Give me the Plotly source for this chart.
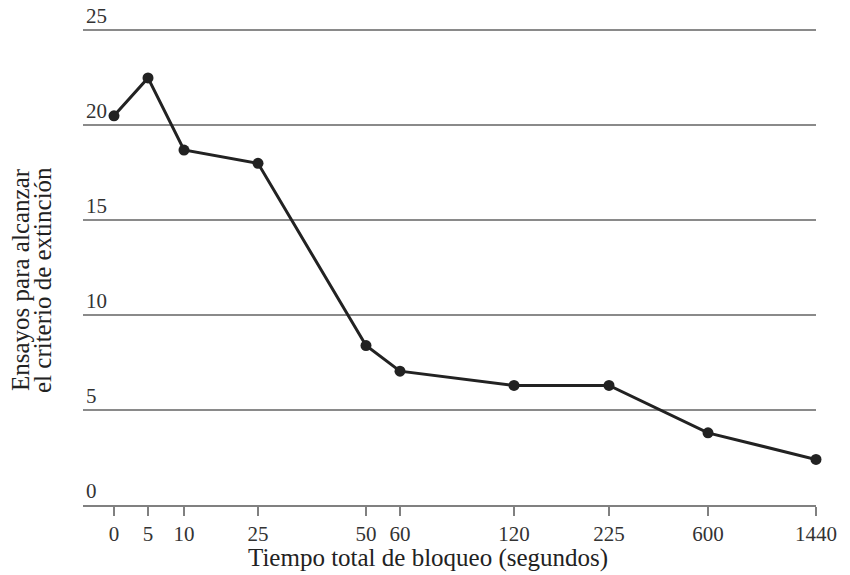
import plotly.graph_objects as go

# Data
block_time_labels = ["0", "5", "10", "25", "50", "60", "120", "225", "600", "1440"]
# Non-uniform positions of the categories along the axis (as drawn in the source figure)
block_time_positions = [31, 65, 101, 175, 283, 317, 431, 526, 625, 733]
trials_to_criterion = [20.5, 22.5, 18.7, 18.0, 8.4, 7.05, 6.3, 6.3, 3.8, 2.4]
y_ticks = [0, 5, 10, 15, 20, 25]
y_title_lines = ["Ensayos para alcanzar", "el criterio de extinción"]
x_title = "Tiempo total de bloqueo (segundos)"

FONT = "Liberation Serif"
Y_MAX = 26.55
PLOT_L, PLOT_R, PLOT_B = 83, 816, 505
PX_PER_UNIT = 19.0
PLOT_T = round(PLOT_B - Y_MAX * PX_PER_UNIT)
W = PLOT_R - PLOT_L
H = PLOT_B - PLOT_T

fig = go.Figure()
fig.add_trace(go.Scatter(
    x=block_time_positions,
    y=trials_to_criterion,
    mode="lines+markers",
    line=dict(color="#222222", width=3),
    marker=dict(color="#222222", size=11),
    cliponaxis=False,
    showlegend=False,
))

annotations = [
    dict(
        text=x_title,
        xref="paper", yref="paper", x=(428 - PLOT_L) / W,
        y=-(558 - PLOT_B) / H,
        xanchor="center", yanchor="middle", showarrow=False,
        font=dict(family=FONT, size=25, color="#222222"),
    ),
]
for line_text, cx in zip(y_title_lines, [20, 42]):
    annotations.append(dict(
        text=line_text,
        xref="paper", yref="paper", x=-(PLOT_L - cx) / W,
        y=(PLOT_B - 280) / H,
        xanchor="center", yanchor="middle", showarrow=False, textangle=-90,
        font=dict(family=FONT, size=25, color="#222222"),
    ))

fig.update_layout(
    width=850, height=575,
    margin=dict(l=PLOT_L, r=850 - PLOT_R, t=PLOT_T, b=575 - PLOT_B),
    paper_bgcolor="white", plot_bgcolor="white",
    font=dict(family=FONT, color="#333333", size=21),
    xaxis=dict(
        range=[0, W],
        tickmode="array",
        tickvals=block_time_positions,
        ticktext=block_time_labels,
        showgrid=False, zeroline=False,
        showline=True, linecolor="#808080", linewidth=2,
        ticks="outside", ticklen=9, tickwidth=1.5, tickcolor="#808080",
        tickfont=dict(family=FONT, size=21, color="#333333"),
        automargin=False,
    ),
    yaxis=dict(
        range=[0, Y_MAX],
        tickmode="array",
        tickvals=y_ticks,
        ticktext=[str(v) for v in y_ticks],
        showgrid=True, gridcolor="#8a8a8a", gridwidth=2,
        zeroline=False, showline=False, ticks="",
        ticklabelposition="inside top",
        tickfont=dict(family=FONT, size=21, color="#333333"),
        automargin=False,
    ),
    annotations=annotations,
)

fig.write_html("out.html", config={"displayModeBar": False},
               post_script="document.body.style.margin='0px';")
